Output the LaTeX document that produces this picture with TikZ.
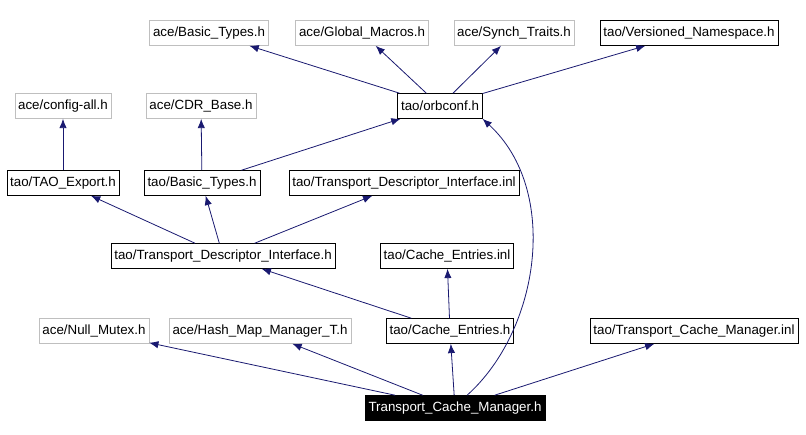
\documentclass[tikz,border=0pt]{standalone}
\usepackage{fontspec}
\setmainfont{Liberation Sans}
\usetikzlibrary{arrows.meta,positioning}
\definecolor{edgeblue}{RGB}{25,25,112}
\begin{document}
\begin{tikzpicture}[x=0.75pt,y=-0.75pt,
    file/.style={draw=black, minimum height=25*0.75pt, inner xsep=2.5pt, inner ysep=0pt, font=\fontsize{10}{11}\selectfont},
    ext/.style={file, draw=gray!50},
    root/.style={file, fill=black, text=white},
    dep/.style={-{Latex[length=7pt,width=5.5pt]}, edgeblue, semithick}]
      \useasboundingbox (0,0) rectangle (806,435);

      \node[root] (tcm) at (455,408) {Transport\_Cache\_Manager.h};

      \node[ext] (nullmutex) at (94,331) {ace/Null\_Mutex.h};
      \node[ext] (hashmap) at (260,331) {ace/Hash\_Map\_Manager\_T.h};
      \node[file] (cacheh) at (450,331) {tao/Cache\_Entries.h};
      \node[file] (tcminl) at (694,331) {tao/Transport\_Cache\_Manager.inl};

      \node[file] (cacheinl) at (447,256) {tao/Cache\_Entries.inl};
      \node[file] (tdih) at (223,256) {tao/Transport\_Descriptor\_Interface.h};

      \node[file] (export) at (63,183) {tao/TAO\_Export.h};
      \node[file] (taobasic) at (202,183) {tao/Basic\_Types.h};
      \node[file] (tdiinl) at (404,183) {tao/Transport\_Descriptor\_Interface.inl};

      \node[ext] (config) at (63,106) {ace/config-all.h};
      \node[ext] (cdr) at (201,106) {ace/CDR\_Base.h};
      \node[file] (orbconf) at (440,106) {tao/orbconf.h};

      \node[ext] (acebasic) at (209,33) {ace/Basic\_Types.h};
      \node[ext] (macros) at (362,33) {ace/Global\_Macros.h};
      \node[ext] (synch) at (514,33) {ace/Synch\_Traits.h};
      \node[file] (versioned) at (689,33) {tao/Versioned\_Namespace.h};

      \draw[dep] (tcm) -- (nullmutex);
      \draw[dep] (tcm) -- (hashmap);
      \draw[dep] (tcm) -- (cacheh);
      \draw[dep] (tcm) -- (tcminl);
      \draw[dep] (tcm.north east) ++(-78,0) .. controls (540,330) and (560,190) .. (orbconf.south east);

      \draw[dep] (cacheh) -- (cacheinl);
      \draw[dep] (cacheh) -- (tdih);

      \draw[dep] (tdih) -- (export);
      \draw[dep] (tdih) -- (taobasic);
      \draw[dep] (tdih) -- (tdiinl);

      \draw[dep] (export) -- (config);
      \draw[dep] (taobasic) -- (cdr);
      \draw[dep] (taobasic) -- (orbconf);

      \draw[dep] (orbconf) -- (acebasic);
      \draw[dep] (orbconf) -- (macros);
      \draw[dep] (orbconf) -- (synch);
      \draw[dep] (orbconf) -- (versioned);
\end{tikzpicture}
\end{document}
